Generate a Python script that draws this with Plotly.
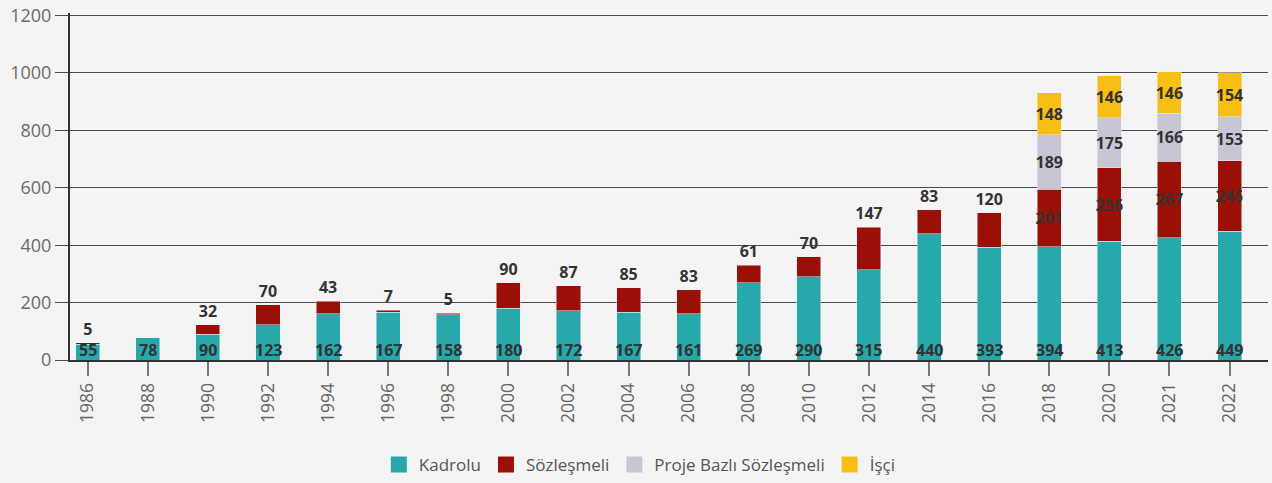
import plotly.graph_objects as go

years = ["1986", "1988", "1990", "1992", "1994", "1996", "1998", "2000", "2002", "2004",
         "2006", "2008", "2010", "2012", "2014", "2016", "2018", "2020", "2021", "2022"]
kadrolu = [55, 78, 90, 123, 162, 167, 158, 180, 172, 167, 161, 269, 290, 315, 440, 393, 394, 413, 426, 449]
sozlesmeli = [5, None, 32, 70, 43, 7, 5, 90, 87, 85, 83, 61, 70, 147, 83, 120, 201, 256, 267, 245]
proje = [None] * 16 + [189, 175, 166, 153]
isci = [None] * 16 + [148, 146, 146, 154]

series_names = ["Kadrolu", "Sözleşmeli", "Proje Bazlı Sözleşmeli", "İşçi"]
colors = ["#27A8AA", "#9B1006", "#C9C6D4", "#F7BF14"]
y_ticks = [0, 200, 400, 600, 800, 1000, 1200]

FONT = "Open Sans"
LABEL_FONT = dict(family=FONT, size=16, color="#333333", weight="bold")


def txt(vals):
    return ["" if v is None else str(v) for v in vals]


fig = go.Figure()

# Kadrolu bars (labels drawn as annotations at the baseline)
fig.add_trace(go.Bar(
    x=years, y=kadrolu, name=series_names[0], marker_color=colors[0],
    showlegend=False,
))

soz_pos = ["inside" if (p is not None) else "outside" for p in proje]
fig.add_trace(go.Bar(
    x=years, y=sozlesmeli, name=series_names[1], marker_color=colors[1],
    text=txt(sozlesmeli), textposition=soz_pos, insidetextanchor="middle",
    textangle=0, constraintext="none", textfont=LABEL_FONT,
    insidetextfont=LABEL_FONT, outsidetextfont=LABEL_FONT, cliponaxis=False,
    showlegend=False,
))

fig.add_trace(go.Bar(
    x=years, y=proje, name=series_names[2], marker_color=colors[2],
    text=txt(proje), textposition="inside", insidetextanchor="middle",
    textangle=0, constraintext="none", textfont=LABEL_FONT,
    insidetextfont=LABEL_FONT, cliponaxis=False, showlegend=False,
))

fig.add_trace(go.Bar(
    x=years, y=isci, name=series_names[3], marker_color=colors[3],
    text=txt(isci), textposition="inside", insidetextanchor="middle",
    textangle=0, constraintext="none", textfont=LABEL_FONT,
    insidetextfont=LABEL_FONT, cliponaxis=False, showlegend=False,
))

# Legend entries with larger square swatches
for name, col in zip(series_names, colors):
    fig.add_trace(go.Scatter(
        x=[None], y=[None], mode="markers", name=name,
        marker=dict(symbol="square", size=16, color=col),
        showlegend=True,
    ))

# Kadrolu value labels sitting on the baseline (x given as category index)
for i, v in enumerate(kadrolu):
    fig.add_annotation(
        x=i, y=0, xref="x", yref="y", text=str(v), showarrow=False,
        yanchor="bottom", yshift=-3, font=LABEL_FONT,
    )

fig.update_layout(
    barmode="stack",
    bargap=0.6,
    width=1272, height=483,
    paper_bgcolor="#F4F4F4",
    plot_bgcolor="#F4F4F4",
    margin=dict(l=70, r=4, t=13, b=123),
    font=dict(family=FONT, color="#666666", size=17),
    showlegend=True,
    legend=dict(
        orientation="h", xref="container", yref="container",
        x=0.503, xanchor="center", y=0.0, yanchor="bottom",
        font=dict(family=FONT, size=17, color="#555555"),
        traceorder="normal", itemclick=False, itemdoubleclick=False,
    ),
    xaxis=dict(
        type="category", range=[-0.295, 19.64],
        showline=True, linecolor="#333333", linewidth=2,
        ticks="outside", ticklen=14, tickcolor="#777777", tickwidth=1.5,
        tickangle=-90, tickfont=dict(family=FONT, size=17.5, color="#666666"),
        showgrid=False, fixedrange=True,
    ),
    yaxis=dict(
        range=[0, 1209], tickvals=y_ticks,
        showline=True, linecolor="#333333", linewidth=2,
        showgrid=True, gridcolor="#4a4a4a", gridwidth=1,
        ticks="outside", ticklen=13, tickcolor="#4a4a4a", tickwidth=1,
        tickfont=dict(family=FONT, size=18, color="#6b6b6b"),
        zeroline=False, fixedrange=True,
    ),
)

fig.write_html(
    "out.html",
    config={"displayModeBar": False},
    post_script="document.body.style.margin='0';document.body.style.background='#F4F4F4';",
)
